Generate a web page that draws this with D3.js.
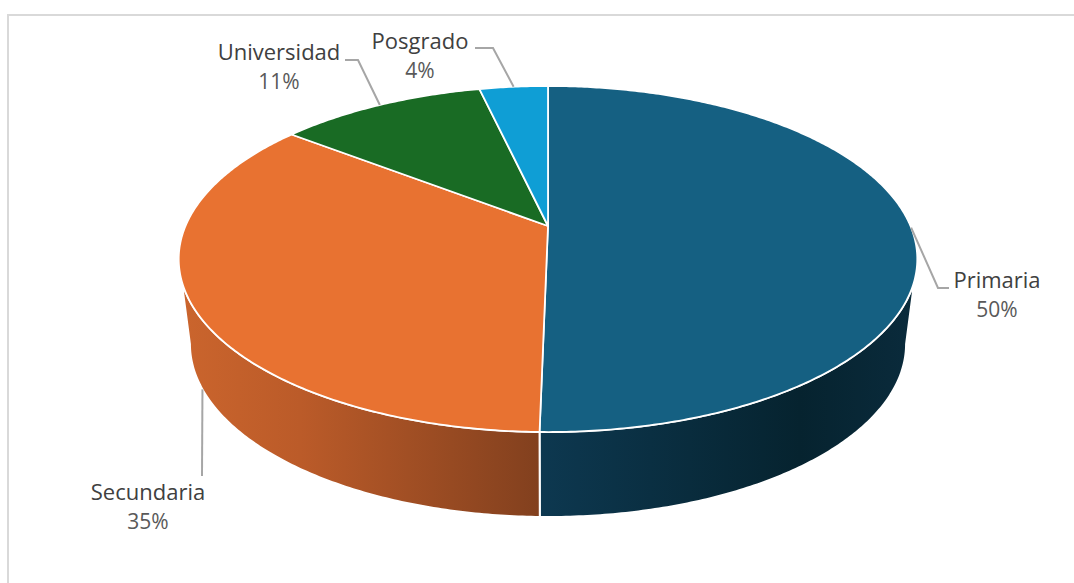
<!DOCTYPE html>
<html>
<head>
<meta charset="utf-8">
<script src="https://cdn.jsdelivr.net/npm/d3@7"></script>
<style>
  body { margin: 0; background: #fff; }
  svg { display: block; }
  text { font-family: "Open Sans", "Noto Sans", sans-serif; }
</style>
</head>
<body>
<div id="chart"></div>
<script>
// Chart data
var categories = ["Primaria", "Secundaria", "Universidad", "Posgrado"];
var shares = [50.3, 35.2, 10.9, 3.6];
var shareLabels = ["50%", "35%", "11%", "4%"];
var colors = ["#156082", "#E87231", "#196B24", "#0F9ED5"];

var svgWidth = 1074;
var svgHeight = 583;

var svg = d3.select("#chart")
  .append("svg")
  .attr("width", svgWidth)
  .attr("height", svgHeight);

// Chart frame (only top and left edges show in the screenshot)
svg.append("path")
  .attr("d", "M8,583V15H1074")
  .attr("fill", "none")
  .attr("stroke", "#d9d9d9")
  .attr("stroke-width", 2);

// Perspective of the pie: u = sin(angle), v = -cos(angle), near edge is v = 1
var centerX = 548;
var topApexY = 226;
var tilt = 0.1908;
var topPlane = { rx: 362.5, ry: 166.7, y: topApexY };
var bottomPlane = { rx: 351.5, ry: 166.7, y: topApexY + 85 };

function project(plane, angle) {
  var u = Math.sin(angle);
  var v = -Math.cos(angle);
  var w = 1 - tilt * v;
  return [centerX + plane.rx * u / w, plane.y + plane.ry * v / w];
}

function sampleAngles(a0, a1) {
  var n = Math.max(2, Math.ceil(Math.abs(a1 - a0) / 0.01));
  return d3.range(n + 1).map(function(i) { return a0 + (a1 - a0) * i / n; });
}

var line = d3.line();

var pie = d3.pie().sort(null).value(function(d) { return d; });
var arcs = pie(shares);

// Where the side wall is visible
var sideStart = Math.acos(-tilt);
var sideEnd = 2 * Math.PI - sideStart;

// Side wall gradients
var defs = svg.append("defs");
var sideStops = {
  0: [[179, "#0D3850"], [540, "#0D3850"], [800, "#06232F"], [917, "#0A2B3C"]],
  1: [[179, "#CB652D"], [300, "#BB5B29"], [540, "#82401E"], [917, "#82401E"]]
};
Object.keys(sideStops).forEach(function(k) {
  var grad = defs.append("linearGradient")
    .attr("id", "side" + k)
    .attr("gradientUnits", "userSpaceOnUse")
    .attr("x1", 179).attr("x2", 917)
    .attr("y1", 0).attr("y2", 0);
  sideStops[k].forEach(function(s) {
    grad.append("stop")
      .attr("offset", (s[0] - 179) / (917 - 179))
      .attr("stop-color", s[1]);
  });
});

// Side walls first, so the top sits over them
arcs.forEach(function(d, i) {
  var a0 = Math.max(d.startAngle, sideStart);
  var a1 = Math.min(d.endAngle, sideEnd);
  if (a1 <= a0) return;
  var angles = sampleAngles(a0, a1);
  var pts = angles.map(function(a) { return project(topPlane, a); })
    .concat(angles.slice().reverse().map(function(a) { return project(bottomPlane, a); }));
  svg.append("path")
    .attr("d", line(pts) + "Z")
    .attr("fill", "url(#side" + i + ")")
    .attr("stroke", "#fff")
    .attr("stroke-width", 2)
    .attr("stroke-linejoin", "round");
});

// Top face
arcs.forEach(function(d, i) {
  var pts = [[centerX, topApexY]]
    .concat(sampleAngles(d.startAngle, d.endAngle).map(function(a) { return project(topPlane, a); }));
  svg.append("path")
    .attr("d", line(pts) + "Z")
    .attr("fill", colors[i])
    .attr("stroke", "#fff")
    .attr("stroke-width", 1.75)
    .attr("stroke-linejoin", "round");
});

// Label placement: x is the text centre, y the first baseline, elbow the leader's bend
var labelPlacement = [
  { x: 997, y: 288, elbow: [[938, 288], [949, 288]] },
  { x: 148, y: 500, elbow: [[202, 476]] },
  { x: 279, y: 60, elbow: [[358, 60], [345, 60]] },
  { x: 420, y: 49, elbow: [[493, 48], [475, 48]] }
];

arcs.forEach(function(d, i) {
  var mid = (d.startAngle + d.endAngle) / 2;
  // Secundaria's leader leaves from the lower rim, the others from the top face
  var anchor = project(i === 1 ? bottomPlane : topPlane, mid);
  svg.append("path")
    .attr("d", line([anchor].concat(labelPlacement[i].elbow)))
    .attr("fill", "none")
    .attr("stroke", "#a6a6a6")
    .attr("stroke-width", 2);

  svg.append("text")
    .attr("x", labelPlacement[i].x)
    .attr("y", labelPlacement[i].y)
    .attr("text-anchor", "middle")
    .attr("font-size", 22)
    .attr("fill", "#404040")
    .text(categories[i]);

  svg.append("text")
    .attr("x", labelPlacement[i].x)
    .attr("y", labelPlacement[i].y + 29)
    .attr("text-anchor", "middle")
    .attr("font-size", 21)
    .attr("fill", "#595959")
    .text(shareLabels[i]);
});
</script>
</body>
</html>
